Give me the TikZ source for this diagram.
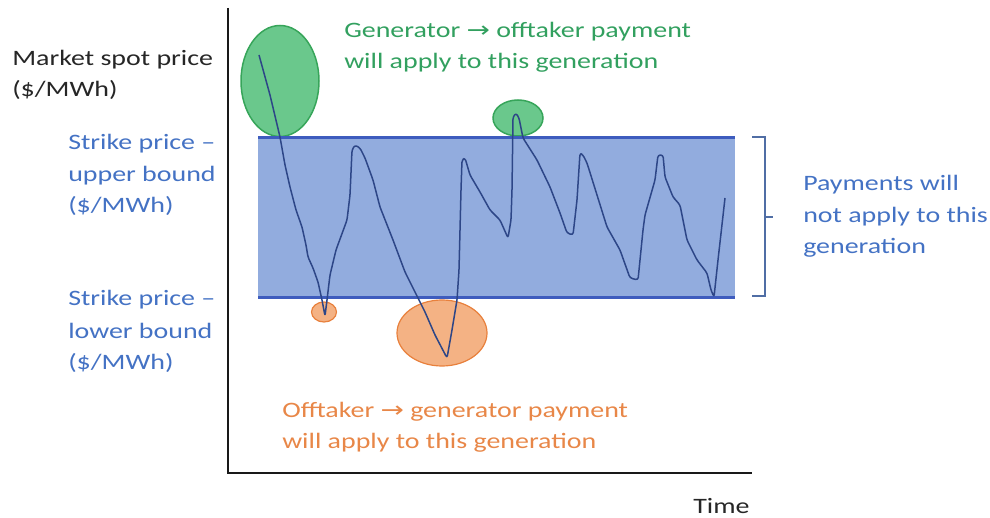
\documentclass[tikz,border=0pt]{standalone}
\usepackage{fontspec}
\usetikzlibrary{shapes.geometric}
\setmainfont{Carlito}
\newfontfamily\arrfont{DejaVu Sans}
\definecolor{bandfill}{RGB}{146,172,222}
\definecolor{bandline}{RGB}{62,92,190}
\definecolor{curvecol}{RGB}{45,70,135}
\definecolor{txtblue}{RGB}{68,114,196}
\definecolor{txtgreen}{RGB}{50,160,95}
\definecolor{txtorange}{RGB}{232,135,72}
\definecolor{grfill}{RGB}{106,200,140}
\definecolor{grline}{RGB}{55,165,90}
\definecolor{orfill}{RGB}{244,178,132}
\definecolor{orline}{RGB}{232,128,60}
\definecolor{brcol}{RGB}{80,110,165}
\begin{document}
\begin{tikzpicture}[x=1pt,y=-1pt,
  lbl/.style={anchor=base west,inner sep=0pt,xscale=1.27,font=\fontsize{22}{31}\selectfont},
  axisline/.style={draw=black!90,line width=2pt},
  boundline/.style={draw=bandline,line width=3pt},
  greenblob/.style={ellipse,fill=grfill,draw=grline,line width=1.5pt,inner sep=0pt},
  orangeblob/.style={ellipse,fill=orfill,draw=orline,line width=1.2pt,inner sep=0pt}]
\useasboundingbox (0,0) rectangle (990,518);
% axes
\coordinate (ytop) at (228,8);
\coordinate (orig) at (228,473);
\coordinate (xend) at (752,473);
\draw[axisline] (ytop) -- (orig) -- (xend);
% band
\fill[bandfill] (258,138) rectangle (735,298);
% blobs
\node[greenblob,minimum width=78pt,minimum height=111pt] (g1) at (280,81) {};
\node[greenblob,minimum width=50pt,minimum height=36pt] (g2) at (518,118) {};
\node[orangeblob,minimum width=25pt,minimum height=20pt] (o1) at (324,312) {};
\node[orangeblob,minimum width=90pt,minimum height=66pt] (o2) at (442,333) {};
% bound lines
\coordinate (ul) at (258,138); \coordinate (ur) at (735,138);
\coordinate (ll) at (258,298); \coordinate (lr) at (735,298);
\draw[boundline] (ul) -- (ur);
\draw[boundline] (ll) -- (lr);
% price curve
\draw[curvecol,line width=1.5pt,rounded corners=2.5pt,line join=round]
 (259,55) -- (270,95) -- (280,137) -- (285,165) -- (290,187) -- (296,210) -- (302,227) -- (306,245) -- (308,257) -- (313,268) -- (318,282) -- (322,300) -- (325,316) -- (327,300) -- (330,275) -- (336,250) -- (347,220) -- (350,195) -- (352,150) -- (355,145) -- (360,148) -- (365,158) -- (373,180) -- (380,207) -- (393,240) -- (405,272) -- (415,292) -- (425,312) -- (435,335) -- (447,358) -- (452,330) -- (457,300) -- (459,270) -- (461,190) -- (462,160) -- (465,158) -- (470,175) -- (480,192) -- (490,210) -- (500,220) -- (508,238) -- (511,220) -- (512,190) -- (513,117) -- (516,113) -- (519,118) -- (523,138) -- (537,160) -- (550,187) -- (560,213) -- (567,233) -- (573,235) -- (577,200) -- (580,153) -- (583,155) -- (587,163) -- (597,195) -- (607,227) -- (620,250) -- (630,278) -- (638,280) -- (643,230) -- (645,215) -- (655,180) -- (658,155) -- (663,155) -- (665,177) -- (673,197) -- (680,205) -- (687,240) -- (697,260) -- (707,273) -- (711,290) -- (714,297) -- (718,260) -- (725,198);
% bracket
\coordinate (bt0) at (752,137); \coordinate (bt) at (765,137);
\coordinate (bb) at (765,296); \coordinate (bb0) at (752,296);
\coordinate (bm) at (765,217); \coordinate (bm1) at (773,217);
\draw[brcol,line width=1.5pt] (bt0) -- (bt) -- (bb) -- (bb0);
\draw[brcol,line width=1.5pt] (bm) -- (bm1);
% texts
\node[lbl,text=black!85] (m1) at (12,66) {Market spot price};
\node[lbl,text=black!85] (m2) at (12,97) {(\$/MWh)};
\node[lbl,text=txtblue] (u1) at (68,150) {Strike price –};
\node[lbl,text=txtblue] (u2) at (68,182) {upper bound};
\node[lbl,text=txtblue] (u3) at (68,213) {(\$/MWh)};
\node[lbl,text=txtblue] (l1) at (68,306) {Strike price –};
\node[lbl,text=txtblue] (l2) at (68,338) {lower bound};
\node[lbl,text=txtblue] (l3) at (68,369) {(\$/MWh)};
\node[lbl,text=txtgreen] (t1) at (344,38) {Generator {\arrfont→} offtaker payment};
\node[lbl,text=txtgreen] (t2) at (344,69) {will apply to this generation};
\node[lbl,text=txtorange] (b1) at (282,417) {Offtaker {\arrfont→} generator payment};
\node[lbl,text=txtorange] (b2) at (282,448) {will apply to this generation};
\node[lbl,text=txtblue] (p1) at (803,191) {Payments will};
\node[lbl,text=txtblue] (p2) at (803,223) {not apply to this};
\node[lbl,text=txtblue] (p3) at (803,254) {generation};
\node[lbl,text=black!85] (tm) at (693,513) {Time};
\end{tikzpicture}
\end{document}
